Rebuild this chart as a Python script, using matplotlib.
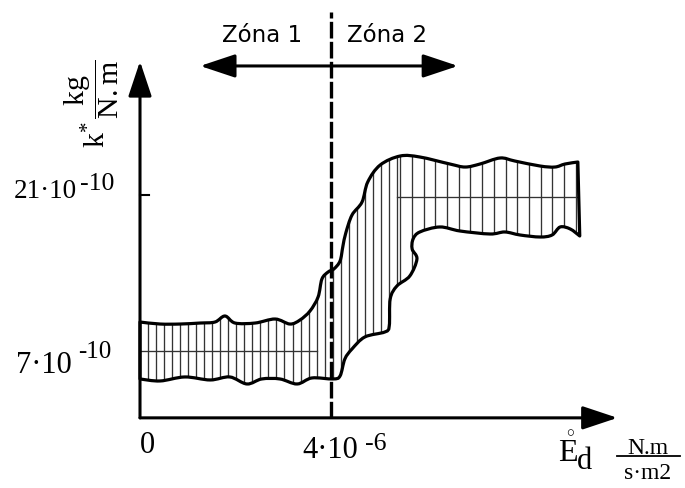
"""
Sketch of k* versus E°d with the two zones (band of scatter).
"""
import numpy as np
import matplotlib.pyplot as plt
from matplotlib.path import Path
from matplotlib.patches import PathPatch

# --- data (x in 1e-6 N.m/(s.m2), y in 1e-10 kg/(N.m)) ---
upper_x = [0.00, 0.42, 0.84, 1.26, 1.57, 1.78, 1.99, 2.41, 2.83, 3.14, 3.35,
           3.56, 3.73, 3.81, 3.94, 4.06, 4.19, 4.25, 4.31, 4.44, 4.65, 4.77,
           5.03, 5.45, 5.86, 6.49, 6.81, 7.12, 7.54, 7.85, 8.38, 8.69, 8.90, 9.17]
upper_y = [9.60, 9.42, 9.42, 9.51, 9.60, 10.14, 9.51, 9.51, 9.87, 9.42, 9.78,
           10.59, 11.85, 13.46, 14.09, 14.36, 15.08, 16.42, 17.59, 19.20, 20.37, 22.17,
           23.69, 24.50, 24.41, 23.78, 23.51, 23.78, 24.32, 24.05, 23.60, 23.51, 23.78, 23.96]

lower_x = [0.00, 0.42, 0.94, 1.47, 1.88, 2.24, 2.55, 2.93, 3.29, 3.60, 4.04,
           4.19, 4.29, 4.44, 4.71, 5.13, 5.22, 5.24, 5.38, 5.65, 5.80, 5.70,
           5.72, 5.86, 6.28, 6.70, 7.33, 7.64, 7.96, 8.38, 8.63, 8.80, 9.01, 9.21]
lower_y = [4.49, 4.31, 4.67, 4.40, 4.67, 4.04, 4.49, 4.49, 4.04, 4.58, 4.49,
           4.76, 6.28, 7.18, 8.26, 8.71, 9.25, 11.67, 12.83, 13.73, 15.26, 16.15,
           17.05, 17.68, 18.13, 17.77, 17.50, 17.68, 17.41, 17.23, 17.41, 18.13, 17.95, 17.32]

# mean lines inside the band
mean_left = (0.0, 3.71, 7.0)      # x0, x1, y
mean_right = (5.38, 9.15, 20.8)

zone_border = 4.0
zone_arrow_ends = (1.26, 6.66)
zone_labels = ['Zóna 1', 'Zóna 2']

y_axis_start, y_axis_end = 1.0, 33.0
x_axis_end = 10.0

plt.rcParams['mathtext.fontset'] = 'custom'
plt.rcParams['mathtext.rm'] = 'Liberation Serif'
plt.rcParams['mathtext.it'] = 'Liberation Serif:italic'
SERIF = 'Liberation Serif'
SANS = 'DejaVu Sans'


def arrow(ax, start, end, lw=2.2):
    ax.annotate('', xy=end, xytext=start,
                arrowprops=dict(arrowstyle='-|>,head_length=1.5,head_width=0.5',
                                mutation_scale=14.4, lw=lw, color='black',
                                shrinkA=0, shrinkB=0))


def smooth_segments(pts):
    """Bezier (Catmull-Rom) pieces passing through the given points."""
    p = np.asarray(pts, float)
    p = np.vstack([p[0], p, p[-1]])
    verts, codes = [], []
    for i in range(1, len(p) - 2):
        c1 = p[i] + (p[i + 1] - p[i - 1]) / 6
        c2 = p[i + 1] - (p[i + 2] - p[i]) / 6
        verts += [c1, c2, p[i + 1]]
        codes += [Path.CURVE4] * 3
    return verts, codes


fig = plt.figure(figsize=(6.85, 4.89), dpi=100)
ax = fig.add_axes([0, 0, 1, 1])
ax.set_xlim(-2.932, 11.414)
ax.set_ylim(-5.295, 38.589)
ax.axis('off')

# band outline: upper edge left->right, right side, lower edge right->left
up = list(zip(upper_x, upper_y))
lo = list(zip(lower_x, lower_y))[::-1]
v1, c1 = smooth_segments(up)
v2, c2 = smooth_segments(lo)
verts = [up[0]] + v1 + [lo[0]] + v2 + [up[0]]
codes = [Path.MOVETO] + c1 + [Path.LINETO] + c2 + [Path.CLOSEPOLY]
band_path = Path(verts, codes)

clip = PathPatch(band_path, facecolor='none', edgecolor='none')
ax.add_patch(clip)
outline = PathPatch(band_path, facecolor='none', edgecolor='black', lw=2.3,
                    joinstyle='round', zorder=4)
ax.add_patch(outline)

# vertical hatching, clipped to the band
hatch_x = np.concatenate([np.arange(0.17, 5.45, 0.168), np.arange(5.45, 9.2, 0.245)])
hl = ax.vlines(hatch_x, 0, 30, colors='#333333', lw=0.95, zorder=2)
hl.set_clip_path(clip)

for x0, x1, yy in (mean_left, mean_right):
    ax.plot([x0, x1], [yy, yy], color='#333333', lw=0.95, zorder=2)

# axes with arrows
arrow(ax, (0, y_axis_start), (0, y_axis_end))
arrow(ax, (0, y_axis_start), (x_axis_end, y_axis_start))
ax.plot([0, 0.19], [21, 21], color='black', lw=1.5)

# zone border and zone arrows
ax.plot([zone_border, zone_border], [y_axis_start, 37.4], color='black', lw=2.4,
        linestyle=(0, (5, 1)), zorder=5)
arrow(ax, (zone_border, 32.58), (zone_arrow_ends[0], 32.58))
arrow(ax, (zone_border, 32.58), (zone_arrow_ends[1], 32.58))
ax.text(2.56, 35.4, zone_labels[0], family=SANS, fontsize=16.5, ha='center', va='center')
ax.text(5.18, 35.4, zone_labels[1], family=SANS, fontsize=16.5, ha='center', va='center')

# y tick labels
ax.text(-1.319, 20.82, '21·10', family=SERIF, fontsize=19.5, ha='right', va='baseline')
ax.text(-1.257, 21.54, '-10', family=SERIF, fontsize=18.5, ha='left', va='baseline')
ax.text(-1.424, 5.115, '7·10', family=SERIF, fontsize=22, ha='right', va='baseline')
ax.text(-1.298, 6.46, '-10', family=SERIF, fontsize=18, ha='left', va='baseline')

# x tick labels
ax.text(0.0, -2.06, '0', family=SERIF, fontsize=22, ha='left', va='baseline')
ax.text(3.393, -2.51, '4·10', family=SERIF, fontsize=22, ha='left', va='baseline')
ax.text(4.712, -1.795, '-6', family=SERIF, fontsize=18.5, ha='left', va='baseline')

# x axis label E°d  N.m / s.m2
ax.text(8.754, -2.87, r'$\mathring{\mathrm{E}}$', fontsize=23, ha='left', va='baseline')
ax.text(9.14, -3.50, 'd', family=SERIF, fontsize=22, ha='left', va='baseline')
ax.text(10.64, -2.19, 'N.m', family=SERIF, fontsize=17, ha='center', va='baseline')
ax.plot([9.99, 11.31], [-2.46, -2.46], color='black', lw=1.3)
ax.text(10.64, -2.95, 's·m2', family=SERIF, fontsize=17, ha='center', va='top')

# y axis label
ax.text(-1.0, 29.3, r'$\mathrm{k}^{*}\,\dfrac{\mathrm{kg}}{\mathrm{N.m}}$', fontsize=21.5,
        rotation=90, ha='center', va='center')

fig.savefig('out.png', dpi=100)
